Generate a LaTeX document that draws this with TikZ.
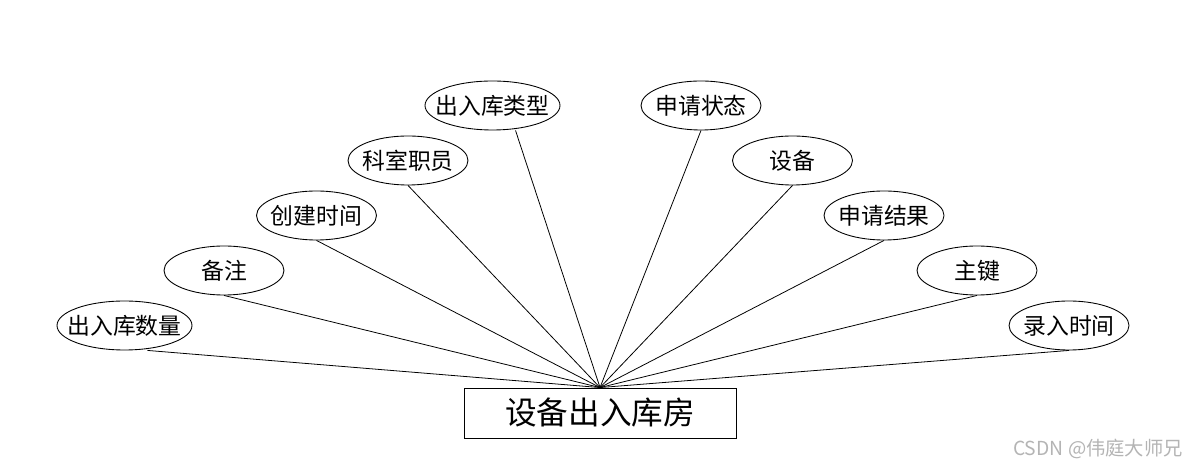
\documentclass[tikz,border=0pt]{standalone}
\usepackage{fontspec}
\setmainfont{Noto Sans CJK SC}
\usepackage{tikz}
\usetikzlibrary{shapes, shapes.geometric, positioning}
\usepackage{xcolor}
\definecolor{linegray}{HTML}{000000}
\definecolor{markgray}{HTML}{B4B4B4}

\tikzset{
  attr/.style={draw=linegray, line width=0.5pt, ellipse, minimum width=2.4cm, minimum height=0.98cm,
               inner xsep=-6pt, inner ysep=0pt, font=\fontsize{13}{15}\selectfont},
  wideattr/.style={attr, minimum width=2.7cm},
  entity/.style={draw=linegray, line width=0.5pt, rectangle, minimum width=5.44cm, minimum height=1cm,
                 font=\fontsize{18}{21}\selectfont},
  link/.style={draw=linegray, line width=0.45pt}
}

\begin{document}
\begin{tikzpicture}
  \useasboundingbox (0,0) rectangle (24,9.36);
  % entity
  \node[entity] (house) at (12,1.1) {设备出入库房};
  % attributes, left fan
  \node[wideattr] (qty)   at (2.49,2.85) {出入库数量};
  \node[attr]     (note)  at (4.48,3.95) {备注};
  \node[attr]     (ctime) at (6.33,5.05) {创建时间};
  \node[attr]     (staff) at (8.16,6.15) {科室职员};
  \node[wideattr] (kind)  at (9.85,7.25) {出入库类型};
  % attributes, right fan
  \node[attr] (state)  at (14.02,7.25) {申请状态};
  \node[attr] (dev)    at (15.85,6.15) {设备};
  \node[attr] (result) at (17.68,5.05) {申请结果};
  \node[attr] (pkey)   at (19.54,3.95) {主键};
  \node[attr] (entry)  at (21.38,2.85) {录入时间};
  % links
  \draw[link] ([xshift=0.46cm]qty.south) -- (house.north);
  \draw[link] ([xshift=0.46cm]kind.south) -- (house.north);
  \foreach \a in {note, ctime, staff, state, dev, result, pkey, entry}
    \draw[link] (\a.south) -- (house.north);
  % watermark
  \node[text=markgray, font=\fontsize{11}{13}\selectfont] (mark) at (21.96,0.38) {CSDN @伟庭大师兄};
\end{tikzpicture}
\end{document}
